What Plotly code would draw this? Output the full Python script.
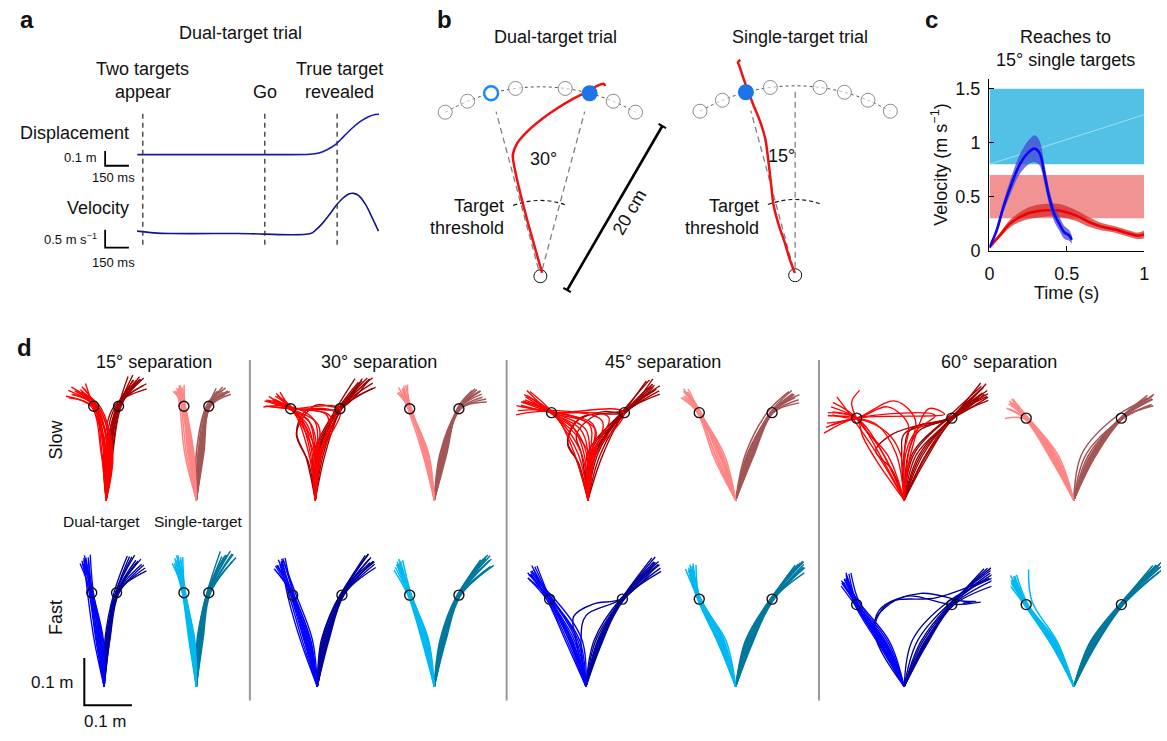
import math
import plotly.graph_objects as go

W, H = 1167, 741
FONT = "Liberation Sans, Arial, Helvetica, sans-serif"
TXT = "#111111"

# ================= DATA =================
# ---- panel a : example dual-target trial (time in ms, displacement in m, velocity in m/s)
a_t_disp = [-35, 200, 500, 800, 1050, 1110, 1162, 1214, 1267, 1319, 1370, 1423, 1464, 1489]
a_disp = [0, 0, 0, 0, 0.002, 0.011, 0.033, 0.067, 0.123, 0.178, 0.223, 0.256, 0.271, 0.273]
a_t_vel = [-36, 69, 173, 600, 1058, 1089, 1131, 1173, 1214, 1256, 1298, 1329, 1361, 1402, 1444, 1486]
a_vel = [0.067, 0.019, 0, 0, 0, 0.094, 0.278, 0.511, 0.761, 0.972, 1.111, 1.131, 1.067, 0.833, 0.464, 0.067]
a_event_t = [0, 769, 1225]          # two targets appear, go, true target revealed

# ---- panel b : example reaches (cm)
b_target_angles = [-30, -22.5, -15, -7.5, 7.5, 15, 22.5, 30]
b_target_r = 20
b_arc_angles = [-30, -22.5, -15, -7.5, 0, 7.5, 15, 22.5, 30]
b_threshold_angles = [-21, -10, 0, 10, 21]
b_threshold_r = 8
b_dual_open, b_dual_filled = -15, 15
b_single_filled = -15
b_dual_x = [0.18, -0.70, -1.56, -2.26, -2.78, -2.89, -2.43, -1.39, 0.0, 1.74, 3.47, 4.86, 5.90, 6.67, 6.80]
b_dual_y = [0.35, 3.47, 6.60, 9.38, 11.80, 12.85, 14.06, 15.28, 16.48, 17.71, 18.75, 19.44, 20.07, 20.31, 20.07]
b_single_x = [-0.03, -0.55, -1.07, -1.77, -2.29, -2.53, -2.81, -3.16, -3.68, -4.38, -4.90, -5.42, -5.87, -6.01, -5.76]
b_single_y = [0.24, 1.63, 3.36, 5.45, 7.53, 9.60, 12.03, 14.48, 16.22, 17.95, 19.35, 20.73, 22.12, 22.47, 22.74]

# ---- panel c : mean velocity profiles (s, m/s)
c_t_fast = [0.0, 0.047, 0.089, 0.143, 0.196, 0.249, 0.291, 0.323, 0.355, 0.387, 0.419, 0.451, 0.483, 0.515, 0.532]
c_v_fast = [0.03, 0.19, 0.40, 0.62, 0.80, 0.906, 0.945, 0.906, 0.71, 0.49, 0.34, 0.25, 0.17, 0.14, 0.10]
c_e_fast = [0.01, 0.03, 0.05, 0.07, 0.09, 0.11, 0.125, 0.115, 0.09, 0.075, 0.07, 0.065, 0.06, 0.05, 0.04]
c_t_slow = [0.0, 0.068, 0.132, 0.196, 0.26, 0.345, 0.451, 0.557, 0.643, 0.728, 0.813, 0.898, 0.962, 1.0]
c_v_slow = [0.03, 0.143, 0.25, 0.31, 0.35, 0.372, 0.372, 0.326, 0.265, 0.22, 0.195, 0.159, 0.137, 0.15]
c_e_slow = [0.01, 0.02, 0.035, 0.045, 0.055, 0.06, 0.06, 0.05, 0.045, 0.035, 0.03, 0.03, 0.03, 0.035]
c_fast_band = [0.8, 1.5]
c_slow_band = [0.3, 0.7]

# ---- panel d : reach trajectories, polar (deg from straight ahead, m)
# simple tuple = (angle at 0.1 m, angle at 0.2 m, end angle, end radius); list = explicit waypoints
d_separations = [15, 30, 45, 60]

d_slow15_dual_L = [(-3, -7, -14, 0.235), (0, -7, -16, 0.24), (2, -6, -18, 0.235), (4, -6, -12, 0.245),
                   (-5, -8, -20, 0.23), (6, -5, -15, 0.24), (1, -8, -10, 0.25), (-2, -7.5, -19, 0.245),
                   (8, -4, -13, 0.235), (3, -7, -17, 0.25), (-6, -9, -21, 0.235), (5, -6.5, -11, 0.24),
                   (-1, -7, -13, 0.24), (7, -5.5, -17.5, 0.235)]
d_slow15_dual_R = [(3, 7, 14, 0.26), (-1, 6, 18, 0.255), (5, 8, 12, 0.27), (6, 8, 16, 0.265),
                   (-3, 5, 20, 0.25), (4, 7.5, 10, 0.265), (8, 9, 15, 0.27), (1, 6.5, 13, 0.26),
                   (6, 7, 19, 0.26), (2, 8, 17, 0.27), (0, 7, 15.5, 0.265), (7, 8.5, 12.5, 0.26)]
d_slow15_single_L = [(-4, -7, -9, 0.24), (-6, -7, -8, 0.245), (-8, -8, -10, 0.24), (-3, -6.5, -7, 0.24),
                     (-10, -8.5, -11, 0.235), (-12, -9, -9, 0.24), (-5, -7.5, -12, 0.235),
                     (-7, -7, -6, 0.245), (-14, -10, -10, 0.235), (-9, -8, -8.5, 0.245)]
d_slow15_single_R = [(3, 7.5, 14, 0.235), (5, 8, 16, 0.24), (7, 7, 12, 0.235), (9, 8.5, 18, 0.235),
                     (4, 7.5, 10, 0.24), (2, 7, 15, 0.23), (6, 8, 13, 0.245), (0, 6, 11, 0.235),
                     (8, 8, 17, 0.24), (5.5, 7, 14.5, 0.245)]

d_slow30_dual_L = [[(2, 0.1), (-3, 0.16), (-15, 0.2), (-25, 0.23)],
                   [(4, 0.1), (2, 0.16), (-15, 0.2), (-27, 0.235)],
                   [(-4, 0.1), (-8, 0.16), (-15, 0.2), (-22, 0.23)],
                   [(6, 0.1), (8, 0.18), (-15, 0.2), (-28, 0.225)],
                   (-8, -14, -20, 0.235),
                   [(0, 0.1), (-5, 0.17), (-16, 0.2), (-24, 0.24)],
                   [(8, 0.1), (15, 0.2), (-15, 0.2), (-26, 0.22)],
                   (-2, -15, -21, 0.235),
                   [(3, 0.1), (-1, 0.17), (-15, 0.205), (-29, 0.225)],
                   [(-6, 0.1), (-10, 0.17), (-15, 0.2), (-18, 0.24)],
                   [(5, 0.1), (12, 0.19), (-14, 0.2), (-23, 0.23)],
                   (1, -14, -26, 0.235),
                   [(-1, 0.1), (-6, 0.16), (-15, 0.2), (-20, 0.24)],
                   [(7, 0.1), (10, 0.18), (-15, 0.2), (-24, 0.225)]]
d_slow30_dual_R = [(3, 15, 22, 0.27), (5, 15, 26, 0.275), (0, 14, 20, 0.265), (8, 16, 24, 0.28),
                   (-2, 13, 18, 0.27),
                   [(-10, 0.08), (-16, 0.145), (-6, 0.19), (15, 0.2), (24, 0.28)],
                   (6, 15, 28, 0.27),
                   [(-12, 0.09), (-15, 0.15), (0, 0.2), (15, 0.205), (21, 0.275)],
                   (2, 15, 25, 0.285), (10, 16, 27, 0.265), (4, 14.5, 23, 0.28), (12, 15.5, 21, 0.27)]
d_slow30_single_L = [(-8, -15, -16, 0.245), (-10, -14, -14, 0.25), (-12, -15.5, -18, 0.24),
                     (-7, -14.5, -15, 0.25), (-14, -16, -17, 0.24), (-9, -15, -13, 0.25),
                     (-11, -15, -19, 0.24), (-13, -14, -16, 0.245), (-10.5, -15, -17.5, 0.25),
                     (-8.5, -14.5, -15.5, 0.245)]
d_slow30_single_R = [(9, 15, 22, 0.245), (11, 15.5, 25, 0.24), (7, 14.5, 20, 0.25), (13, 16, 27, 0.24),
                     (10, 15, 23, 0.25), (15, 14, 19, 0.245), (12, 15.5, 28, 0.235), (8, 15, 21, 0.25),
                     (14, 15, 24, 0.245), (10.5, 14.5, 22.5, 0.25)]

d_slow45_dual_L = [[(2, 0.1), (-2, 0.15), (-22, 0.2), (-33, 0.25)],
                   [(5, 0.1), (4, 0.16), (-22, 0.2), (-36, 0.245)],
                   [(-5, 0.1), (-12, 0.16), (-22.5, 0.2), (-30, 0.255)],
                   [(8, 0.1), (10, 0.17), (-22, 0.205), (-38, 0.24)],
                   (-12, -22, -28, 0.26),
                   [(0, 0.1), (-6, 0.15), (-23, 0.2), (-34, 0.25)],
                   [(10, 0.1), (22, 0.2), (-22, 0.2), (-35, 0.245)],
                   (-8, -22, -31, 0.26),
                   [(4, 0.1), (6, 0.15), (-21, 0.2), (-40, 0.235)],
                   [(-2, 0.1), (-10, 0.15), (-23, 0.2), (-29, 0.265)],
                   [(6, 0.1), (14, 0.18), (-22, 0.2), (-37, 0.25)],
                   (1, -23, -32, 0.25),
                   [(3, 0.1), (1, 0.16), (-22.5, 0.2), (-31, 0.255)],
                   (-16, -22, -34, 0.25)]
d_slow45_dual_R = [(5, 22, 30, 0.28), (10, 23, 33, 0.275), (0, 21, 27, 0.285), (15, 23, 31, 0.27),
                   [(-14, 0.08), (-20, 0.125), (-10, 0.165), (10, 0.19), (22, 0.2), (29, 0.28)],
                   (3, 22, 34, 0.27),
                   [(-8, 0.1), (-10, 0.14), (5, 0.18), (22, 0.2), (28, 0.29)],
                   (12, 22.5, 32, 0.285),
                   [(-16, 0.09), (-19, 0.13), (-5, 0.175), (22, 0.205), (30, 0.275)],
                   (7, 22, 26, 0.28), (18, 22.5, 29, 0.28), (9, 22, 31.5, 0.275)]
d_slow45_single_L = [(-20, -22.5, -24, 0.25), (-16, -22, -25, 0.255), (-24, -23, -26, 0.245),
                     (-14, -22, -23, 0.255), (-27, -23.5, -27, 0.245), (-18, -22.5, -25, 0.26),
                     (-22, -21.5, -24, 0.25), (-19, -23, -28, 0.245), (-25, -22.5, -25.5, 0.255),
                     (-17, -22, -24.5, 0.25)]
d_slow45_single_R = [(18, 22, 28, 0.255), (20, 22.5, 30, 0.25), (16, 21.5, 27, 0.26), (22, 23, 32, 0.25),
                     (14, 22.5, 29, 0.255), (12, 20, 26, 0.255), (21, 23, 33, 0.245), (17, 22, 31, 0.26),
                     (19, 22.5, 29.5, 0.25), (15, 22, 28.5, 0.255)]

d_slow60_dual_L = [[(0, 0.1), (3, 0.16), (-10, 0.2), (-30, 0.2), (-40, 0.235)],
                   [(5, 0.1), (8, 0.17), (-5, 0.21), (-30, 0.2), (-45, 0.23)],
                   (-28, -30, -36, 0.255),
                   [(-20, 0.1), (-28, 0.16), (-30, 0.2), (-38, 0.25)],
                   [(2, 0.1), (10, 0.15), (20, 0.19), (-30, 0.2), (-50, 0.22)],
                   [(-5, 0.1), (-15, 0.15), (-30, 0.2), (-42, 0.24)],
                   (-30, -32, -33, 0.26),
                   [(8, 0.1), (15, 0.2), (25, 0.2), (-30, 0.2), (-47, 0.225)],
                   [(-25, 0.12), (-30, 0.2), (-28, 0.235), (-22, 0.25)],
                   [(-10, 0.1), (-20, 0.17), (-31, 0.2), (-44, 0.22)],
                   [(-35, 0.1), (-33, 0.16), (-30, 0.2), (-39, 0.24)],
                   (-24, -30, -41, 0.245)]
d_slow60_dual_R = [(20, 30, 36, 0.28), (25, 30, 38, 0.285), (10, 28, 34, 0.29), (28, 31, 40, 0.275),
                   [(0, 0.1), (5, 0.15), (29, 0.2), (35, 0.3)],
                   [(-22, 0.07), (-30, 0.12), (-12, 0.14), (10, 0.16), (30, 0.2), (37, 0.28)],
                   (15, 30, 33, 0.295),
                   [(5, 0.1), (12, 0.15), (30, 0.2), (39, 0.28)],
                   (22, 29.5, 35, 0.29),
                   [(-3, 0.1), (0, 0.14), (30, 0.2), (36, 0.275)],
                   (18, 30, 37, 0.29), (26, 30.5, 34.5, 0.285), (12, 29, 38.5, 0.28)]
d_slow60_single_L = [(-24, -30, -32, 0.24), (-22, -29.5, -33, 0.245), (-27, -30.5, -35, 0.235),
                     (-19, -29, -31, 0.25), (-29, -31, -36, 0.24), (-21, -29, -33, 0.25),
                     (-25, -30, -34, 0.245), (-28, -31, -40, 0.225), (-23, -30, -32.5, 0.245),
                     (-26, -30, -31.5, 0.25)]
d_slow60_single_R = [(22, 30, 36, 0.265), (25, 30.5, 38, 0.27), (18, 29.5, 35, 0.27), (26, 31, 39, 0.26),
                     (20, 30, 37, 0.275), (10, 27, 36, 0.265), (24, 30.5, 40, 0.26), (15, 30, 37, 0.28),
                     (23, 30, 37.5, 0.27), (21, 29.5, 35.5, 0.265)]

d_fast15_dual_L = [(-5, -7.5, -8, 0.27), (-3, -7, -7, 0.275), (-8, -8, -9, 0.27), (-10, -9, -10, 0.265),
                   (-2, -6.5, -6, 0.28), (-6, -8, -11, 0.265), (-12, -10, -9, 0.27), (-4, -7.5, -8.5, 0.28),
                   (-7, -8, -7, 0.27), (-1, -7, -9, 0.275), (-9, -8.5, -8, 0.275), (-4.5, -7, -10, 0.27)]
d_fast15_dual_R = [(4, 7.5, 14, 0.275), (5, 8, 17, 0.27), (3, 7, 12, 0.28), (6, 8.5, 19, 0.265),
                   (2, 7, 11, 0.28), (5.5, 8, 15, 0.275), (4.5, 7.5, 20, 0.26), (3.5, 7, 13, 0.285),
                   (7, 9, 18, 0.27), (1, 6, 10, 0.28), (6.5, 8, 16, 0.28), (2.5, 7.5, 14.5, 0.27)]
d_fast15_single_L = [(-4, -7.5, -8, 0.27), (-6, -7, -6, 0.275), (-8, -8, -9, 0.27), (-2, -7, -7, 0.275),
                     (-9, -8.5, -10, 0.265), (-5, -7.5, -8.5, 0.28), (-7, -7.5, -11, 0.265),
                     (-3, -6.5, -7, 0.27), (-6.5, -8, -9.5, 0.275), (-4.5, -7, -8, 0.28)]
d_fast15_single_R = [(4, 7.5, 13, 0.285), (6, 8, 15, 0.29), (3, 7, 11, 0.28), (8, 8.5, 17, 0.285),
                     (5, 7.5, 14, 0.295), (2, 6.5, 12, 0.28), (7, 8, 16, 0.275), (1, 6.5, 10, 0.29),
                     (5.5, 8, 15.5, 0.29), (3.5, 7, 12.5, 0.285)]

d_fast30_dual_L = [(-12, -15, -16, 0.275), (-10, -14.5, -14, 0.28), (-14, -15.5, -18, 0.27),
                   (-18, -17, -17, 0.27), (-8, -14, -15, 0.28), (-13, -15, -20, 0.265),
                   (-20, -18, -16, 0.275), (-11, -15, -17, 0.28), (-15, -16, -19, 0.27), (-6, -13, -15, 0.275),
                   (-16, -16, -15.5, 0.28), (-9, -14.5, -18.5, 0.27)]
d_fast30_dual_R = [(10, 15, 22, 0.29), (12, 15.5, 24, 0.29), (8, 14.5, 20, 0.295), (13, 16, 25, 0.285),
                   (11, 15, 21, 0.3), (6, 14, 23, 0.285), (12.5, 15.5, 26, 0.28), (9, 15, 22.5, 0.295),
                   (14, 16, 24, 0.29), (5, 14, 21, 0.3), (7, 14.5, 24.5, 0.29)]
d_fast30_single_L = [(-10, -15, -16, 0.27), (-8, -14.5, -15, 0.275), (-13, -15.5, -18, 0.265),
                     (-7, -14, -14, 0.275), (-15, -16, -19, 0.26), (-11, -15, -17, 0.27),
                     (-12, -15, -15.5, 0.28), (-9, -14, -16, 0.27), (-14, -15.5, -17, 0.27),
                     (-10.5, -15, -16.5, 0.275)]
d_fast30_single_R = [(10, 15, 22, 0.29), (12, 15.5, 24, 0.295), (8, 14.5, 20, 0.285), (14, 16, 26, 0.285),
                     (11, 15, 23, 0.3), (7, 14, 21, 0.29), (13, 15.5, 25, 0.28), (9, 15, 22, 0.3),
                     (12.5, 15, 23.5, 0.29), (10.5, 15, 21.5, 0.295)]

d_fast45_dual_L = [(-18, -22.5, -24, 0.27), (-16, -22, -22, 0.275), (-20, -23, -26, 0.265),
                   (-10, -21, -25, 0.27), (-22, -24, -28, 0.26), (-14, -22, -23, 0.275),
                   (-5, -20, -27, 0.265), (-19, -23, -24, 0.28), (-24, -24, -26, 0.265), (-12, -22, -28, 0.26),
                   (-8, -21.5, -25.5, 0.27), (-17, -23, -27, 0.27)]
d_fast45_dual_R = [(16, 22.5, 29, 0.3), (18, 23, 31, 0.3), (14, 22, 27, 0.305), (19, 23.5, 32, 0.295),
                   [(-12, 0.1), (-10, 0.15), (5, 0.175), (22, 0.2), (30, 0.29)],
                   (12, 22, 28, 0.31), (17, 22.5, 30, 0.305),
                   [(-6, 0.1), (0, 0.15), (22, 0.2), (29, 0.3)],
                   (20, 23, 33, 0.29), (15, 22, 28.5, 0.3), (10, 21.5, 30.5, 0.3)]
d_fast45_single_L = [(-17, -22.5, -20, 0.27), (-15, -22, -19, 0.275), (-20, -23, -21, 0.265),
                     (-12, -22, -18, 0.27), (-22, -23.5, -22, 0.265), (-16, -22.5, -20.5, 0.275),
                     (-14, -21.5, -21, 0.265), (-19, -23, -23, 0.27), (-18, -22.5, -19.5, 0.27),
                     (-21, -23, -21.5, 0.27)]
d_fast45_single_R = [(16, 22.5, 27, 0.29), (18, 23, 29, 0.295), (14, 22, 26, 0.285), (20, 23.5, 30, 0.29),
                     (17, 22.5, 28, 0.3), (12, 21.5, 27, 0.29), (19, 23, 31, 0.28), (15, 22, 28.5, 0.3),
                     (21, 23, 29.5, 0.29), (13, 22, 27.5, 0.295)]

d_fast60_dual_L = [(-27, -30, -28, 0.26), (-25, -29.5, -26, 0.265), (-29, -30.5, -30, 0.255),
                   (-24, -29, -27, 0.27), (-30, -31, -32, 0.25), (-26, -30, -29, 0.26),
                   (-20, -28, -25, 0.265), (-28, -30, -31, 0.255), (-31, -31, -28, 0.26), (-23, -29, -27.5, 0.265),
                   (-22, -29.5, -30.5, 0.26), (-18, -28, -29, 0.26)]
d_fast60_dual_R = [(25, 30, 37, 0.3), (27, 30.5, 40, 0.295), (22, 29.5, 35, 0.305), (28, 31, 42, 0.29),
                   (20, 29, 36, 0.31), (26, 30, 38, 0.3), (10, 27, 39, 0.295), (24, 30, 34, 0.3),
                   [(-28, 0.1), (-25, 0.15), (0, 0.19), (30, 0.2), (42, 0.24)],
                   [(-30, 0.12), (-18, 0.17), (10, 0.2), (35, 0.22), (40, 0.235), (35, 0.215)],
                   [(-22, 0.09), (-26, 0.14), (-10, 0.18), (20, 0.2), (38, 0.29)],
                   (16, 28.5, 36.5, 0.305)]
d_fast60_single_L = [(-24, -30, -29, 0.26), (-22, -29.5, -28, 0.265), (-26, -30.5, -31, 0.255),
                     (-21, -29, -27, 0.265), (-28, -31, -32, 0.25), (-25, -30, -30, 0.26),
                     (-20, -26, -21, 0.265), (-27, -30, -29.5, 0.27), (-23, -30, -30.5, 0.26),
                     (-25.5, -30.5, -28.5, 0.265)]
d_fast60_single_R = [(24, 30, 34, 0.31), (26, 30.5, 36, 0.315), (22, 29.5, 33, 0.305), (28, 31, 37, 0.31),
                     (25, 30, 35, 0.32), (20, 29, 34, 0.31), (27, 30.5, 36.5, 0.3), (23, 30, 35, 0.315),
                     (26.5, 30, 34.5, 0.31), (21, 29.5, 35.5, 0.31)]

d_target_r = 0.2

# ================= HELPERS =================
fig = go.Figure()
annotations, shapes = [], []
layout_axes = {}


def px2x(px):
    return px / W


def py2y(py):
    return 1 - py / H


def add_axes(i, x0, x1, y0, y1, xr, yr):
    layout_axes[f"xaxis{i}"] = dict(domain=[px2x(x0), px2x(x1)], range=xr, visible=False,
                                    anchor=f"y{i}", fixedrange=True)
    layout_axes[f"yaxis{i}"] = dict(domain=[py2y(y1), py2y(y0)], range=yr, visible=False,
                                    anchor=f"x{i}", fixedrange=True)


def txt(s, px, py, size=18, xanchor="center", angle=0, color=TXT):
    annotations.append(dict(text=s, x=px2x(px), y=py2y(py), xref="paper", yref="paper",
                            showarrow=False, xanchor=xanchor, yanchor="middle", textangle=angle,
                            font=dict(family=FONT, size=size, color=color)))


def line(i, xs, ys, color="black", width=1.5, dash=None, shape="linear"):
    fig.add_trace(go.Scatter(x=xs, y=ys, mode="lines", xaxis=f"x{i}", yaxis=f"y{i}",
                             line=dict(color=color, width=width, dash=dash, shape=shape),
                             hoverinfo="skip", showlegend=False))


def pol(a, r):
    return r * math.sin(math.radians(a)), r * math.cos(math.radians(a))


def expand(item):
    if isinstance(item[0], (int, float)):
        a1, a2, a3, r3 = item
        return [(a1, 0.1), (a2, 0.2), (a3, r3)]
    return item


def bundle_xy(bundle):
    X, Y = [], []
    for it in bundle:
        X.append(0.0)
        Y.append(0.0)
        for a, r in expand(it):
            x, y = pol(a, r)
            X.append(x)
            Y.append(y)
        X.append(None)
        Y.append(None)
    return X, Y


# ================= PANEL a =================
A_SC_T = 0.16          # px per ms
A_T0_PX = 139
ax_x = [(90 - A_T0_PX) / A_SC_T, (380 - A_T0_PX) / A_SC_T]
add_axes(1, 90, 380, 105, 175, ax_x, [(156.7 - 175) / 150, (156.7 - 105) / 150])
add_axes(2, 90, 380, 185, 260, ax_x, [(236.7 - 260) / 36, (236.7 - 185) / 36])
line(1, a_t_disp, a_disp, color="#1818b0", width=1.6, shape="spline")
line(2, a_t_vel, a_vel, color="#14148c", width=1.6, shape="spline")
for t in a_event_t:
    shapes.append(dict(type="line", xref="x", yref="paper", x0=t, x1=t, y0=py2y(248), y1=py2y(115),
                       line=dict(color="#333333", width=1.3, dash="5px,4px")))
tb = (101 - A_T0_PX) / A_SC_T
d0 = (156.7 - 153) / 150
line(1, [tb, tb, tb + 150], [d0, d0 - 0.1, d0 - 0.1], width=1.8)
v0 = (236.7 - 233) / 36
line(2, [tb, tb, tb + 150], [v0, v0 - 0.5, v0 - 0.5], width=1.8)

txt("<b>a</b>", 22, 20, size=24)
txt("Dual-target trial", 238, 33)
txt("Two targets", 139, 70)
txt("appear", 139, 93)
txt("Go", 262, 93)
txt("True target", 337, 70)
txt("revealed", 337, 93)
txt("Displacement", 127, 135, xanchor="right")
txt("0.1 m", 95, 160, size=13, xanchor="right")
txt("150 ms", 109, 180, size=13)
txt("Velocity", 127, 211, xanchor="right")
txt("0.5 m s<sup>−1</sup>", 95, 242, size=13, xanchor="right")
txt("150 ms", 109, 266, size=13)

# ================= PANEL b =================
B_SC = 9.6   # px per cm


def b_axes(i, sx, sy, x0, x1, y0, y1):
    add_axes(i, x0, x1, y0, y1, [(x0 - sx) / B_SC, (x1 - sx) / B_SC], [(sy - y1) / B_SC, (sy - y0) / B_SC])


b_axes(3, 540, 280, 430, 690, 50, 305)
b_axes(4, 797, 279, 690, 905, 50, 305)

for i, filled, opened, dashed in [(3, b_dual_filled, b_dual_open, [b_dual_open, b_dual_filled]),
                                  (4, b_single_filled, None, [b_single_filled, 0])]:
    for a in dashed:
        rr = 19.6 if a == 0 else 18
        x0, y0 = pol(a, 0.8)
        x1, y1 = pol(a, rr)
        line(i, [x0, x1], [y0, y1], color="#808080", width=1.3, dash="6px,4px")
    ax_, ay_ = zip(*[pol(a, b_target_r) for a in b_arc_angles])
    line(i, list(ax_), list(ay_), color="#555555", width=1, dash="dot", shape="spline")
    tx_, ty_ = zip(*[pol(a, b_threshold_r) for a in b_threshold_angles])
    line(i, list(tx_), list(ty_), color="#111111", width=1.2, dash="4px,3px", shape="spline")
    others = [a for a in b_target_angles if a != filled and a != opened]
    gx, gy = zip(*[pol(a, b_target_r) for a in others])
    fig.add_trace(go.Scatter(x=list(gx), y=list(gy), mode="markers", xaxis=f"x{i}", yaxis=f"y{i}",
                             marker=dict(symbol="circle", size=14, color="rgba(255,255,255,0.6)",
                                         line=dict(color="#8a8a8a", width=1)),
                             hoverinfo="skip", showlegend=False))
    fig.add_trace(go.Scatter(x=[0], y=[0], mode="markers", xaxis=f"x{i}", yaxis=f"y{i}",
                             marker=dict(symbol="circle-open", size=13, color="#111", line=dict(width=1)),
                             hoverinfo="skip", showlegend=False))

ox, oy = pol(b_dual_open, b_target_r)
fig.add_trace(go.Scatter(x=[ox], y=[oy], mode="markers", xaxis="x3", yaxis="y3",
                         marker=dict(symbol="circle", size=14, color="white",
                                     line=dict(color="#1a86ff", width=2.5)),
                         hoverinfo="skip", showlegend=False))
line(3, b_dual_x, b_dual_y, color="#ee1111", width=2.5, shape="spline")
line(4, b_single_x, b_single_y, color="#ee1111", width=2.5, shape="spline")
for i, a in [(3, b_dual_filled), (4, b_single_filled)]:
    fx, fy = pol(a, b_target_r)
    fig.add_trace(go.Scatter(x=[fx], y=[fy], mode="markers", xaxis=f"x{i}", yaxis=f"y{i}",
                             marker=dict(symbol="circle", size=16, color="#1c74e8",
                                         line=dict(color="#1c74e8", width=0)),
                             hoverinfo="skip", showlegend=False))

bx0, by0 = 2.81, -1.46
ux, uy = math.sin(math.radians(30)), math.cos(math.radians(30))
bx1, by1 = bx0 + 20 * ux, by0 + 20 * uy
line(3, [bx0, bx1], [by0, by1], width=2.6)
for cx, cy in [(bx0, by0), (bx1, by1)]:
    line(3, [cx - 0.45 * uy, cx + 0.45 * uy], [cy + 0.45 * ux, cy - 0.45 * ux], width=2)

txt("<b>b</b>", 443, 20, size=24)
txt("Dual-target trial", 555, 37)
txt("Single-target trial", 802, 37)
txt("30°", 543, 161)
txt("Target", 505, 209, xanchor="right")
txt("threshold", 505, 231, xanchor="right")
txt("15°", 783, 158)
txt("Target", 763, 209, xanchor="right")
txt("threshold", 763, 231, xanchor="right")
txt("20 cm", 630, 215, angle=-60)

# ================= PANEL c =================
C_TOP = (254 - 80) / 109.33
layout_axes["xaxis5"] = dict(domain=[px2x(993), px2x(1149)], range=[0, 1], anchor="y5",
                             showline=True, linecolor="black", linewidth=1.5, ticks="inside", ticklen=5,
                             tickcolor="black", tickvals=[0, 0.5, 1], ticktext=["0", "0.5", "1"],
                             tickfont=dict(family=FONT, size=18, color=TXT), showgrid=False,
                             zeroline=False, fixedrange=True, ticklabelstandoff=6)
layout_axes["yaxis5"] = dict(domain=[py2y(254), py2y(80)], range=[0, C_TOP], anchor="x5",
                             showline=True, linecolor="black", linewidth=1.5, ticks="inside", ticklen=5,
                             tickcolor="black", tickvals=[0, 0.5, 1, 1.5], ticktext=["0", "0.5", "1", "1.5"],
                             tickfont=dict(family=FONT, size=18, color=TXT), showgrid=False,
                             zeroline=False, fixedrange=True, ticklabelstandoff=4)
shapes.append(dict(type="rect", xref="x5", yref="y5", x0=0, x1=1, y0=c_fast_band[0], y1=c_fast_band[1],
                   fillcolor="#53c1e6", line=dict(width=0), layer="below"))
shapes.append(dict(type="rect", xref="x5", yref="y5", x0=0, x1=1, y0=c_slow_band[0], y1=c_slow_band[1],
                   fillcolor="#f19393", line=dict(width=0), layer="below"))
shapes.append(dict(type="line", xref="x5", yref="y5", x0=0, x1=1, y0=0.8, y1=1.26,
                   line=dict(color="rgba(255,255,255,0.45)", width=1), layer="below"))

for tt, vv, ee, band, col in [(c_t_slow, c_v_slow, c_e_slow, "rgba(212,40,40,0.72)", "#f00000"),
                              (c_t_fast, c_v_fast, c_e_fast, "rgba(70,70,215,0.75)", "#0a0af0")]:
    up = [v + e for v, e in zip(vv, ee)]
    lo = [v - e for v, e in zip(vv, ee)]
    fig.add_trace(go.Scatter(x=tt, y=lo, mode="lines", xaxis="x5", yaxis="y5",
                             line=dict(width=0, shape="spline"), hoverinfo="skip", showlegend=False))
    fig.add_trace(go.Scatter(x=tt, y=up, mode="lines", xaxis="x5", yaxis="y5", fill="tonexty",
                             fillcolor=band, line=dict(width=0, shape="spline"),
                             hoverinfo="skip", showlegend=False))
    line(5, tt, vv, color=col, width=2.6, shape="spline")

txt("<b>c</b>", 935, 20, size=24)
txt("Reaches to", 1070, 37)
txt("15° single targets", 1070, 61)
txt("Velocity (m s<sup>−1</sup>)", 943, 167, angle=-90)
txt("Time (s)", 1071, 297)

# ================= PANEL d =================
D_SC = 480.0  # px per m
slow_pos = {15: (102, 193), 30: (313, 433), 45: (588, 737), 60: (907, 1078)}
fast_pos = {15: (100, 193), 30: (315, 433), 45: (586, 737), 60: (907, 1078)}
row_y = {"slow": 507, "fast": 696}
colors = {("slow", "dual"): ("#ff0000", "#a00000"),
          ("slow", "single"): ("#ff8585", "#a35656"),
          ("fast", "dual"): ("#0000ff", "#00009c"),
          ("fast", "single"): ("#00b8f2", "#00789c")}
bundles = {
    ("slow", 15, "dual"): (d_slow15_dual_L, d_slow15_dual_R),
    ("slow", 15, "single"): (d_slow15_single_L, d_slow15_single_R),
    ("slow", 30, "dual"): (d_slow30_dual_L, d_slow30_dual_R),
    ("slow", 30, "single"): (d_slow30_single_L, d_slow30_single_R),
    ("slow", 45, "dual"): (d_slow45_dual_L, d_slow45_dual_R),
    ("slow", 45, "single"): (d_slow45_single_L, d_slow45_single_R),
    ("slow", 60, "dual"): (d_slow60_dual_L, d_slow60_dual_R),
    ("slow", 60, "single"): (d_slow60_single_L, d_slow60_single_R),
    ("fast", 15, "dual"): (d_fast15_dual_L, d_fast15_dual_R),
    ("fast", 15, "single"): (d_fast15_single_L, d_fast15_single_R),
    ("fast", 30, "dual"): (d_fast30_dual_L, d_fast30_dual_R),
    ("fast", 30, "single"): (d_fast30_single_L, d_fast30_single_R),
    ("fast", 45, "dual"): (d_fast45_dual_L, d_fast45_dual_R),
    ("fast", 45, "single"): (d_fast45_single_L, d_fast45_single_R),
    ("fast", 60, "dual"): (d_fast60_dual_L, d_fast60_dual_R),
    ("fast", 60, "single"): (d_fast60_single_L, d_fast60_single_R),
}

idx = 6
scale_axis = None
for row in ["slow", "fast"]:
    pos = slow_pos if row == "slow" else fast_pos
    sy = row_y[row]
    for sep in d_separations:
        for k, kind in enumerate(["dual", "single"]):
            sx = pos[sep][k]
            x0, x1 = sx - 90, min(sx + 88, W - 1)
            y0, y1 = sy - 165, sy + 24
            add_axes(idx, x0, x1, y0, y1, [(x0 - sx) / D_SC, (x1 - sx) / D_SC],
                     [(sy - y1) / D_SC, (sy - y0) / D_SC])
            L, R = bundles[(row, sep, kind)]
            cL, cR = colors[(row, kind)]
            wd = 1.35 if kind == "dual" else 1.5
            xs, ys = bundle_xy(R)
            line(idx, xs, ys, color=cR, width=wd, shape="spline")
            xs, ys = bundle_xy(L)
            line(idx, xs, ys, color=cL, width=wd, shape="spline")
            tx, ty = zip(*[pol(-sep / 2, d_target_r), pol(sep / 2, d_target_r)])
            fig.add_trace(go.Scatter(x=list(tx), y=list(ty), mode="markers", xaxis=f"x{idx}",
                                     yaxis=f"y{idx}",
                                     marker=dict(symbol="circle-open", size=10, color="#111",
                                                 line=dict(width=1.4)),
                                     hoverinfo="skip", showlegend=False))
            if row == "fast" and sep == 15 and kind == "dual":
                scale_axis = (idx, sx, sy)
            idx += 1

si, ssx, ssy = scale_axis
cx, cy = (80 - ssx) / D_SC, (ssy - 715) / D_SC
line(si, [cx, cx, cx + 0.1], [cy + 0.1, cy, cy], width=2)

for xsep in [247, 506, 821]:
    shapes.append(dict(type="line", xref="paper", yref="paper", x0=px2x(xsep), x1=px2x(xsep),
                       y0=py2y(710), y1=py2y(365), line=dict(color="#9a9a9a", width=2)))

txt("<b>d</b>", 20, 352, size=24)
txt("15° separation", 150, 367)
txt("30° separation", 377, 367)
txt("45° separation", 664, 367)
txt("60° separation", 1003, 367)
txt("Slow", 51, 446, angle=-90)
txt("Fast", 51, 626, angle=-90)
txt("Dual-target", 97, 529, size=15.5)
txt("Single-target", 195, 529, size=15.5)
txt("0.1 m", 72, 692, size=17, xanchor="right")
txt("0.1 m", 101, 731, size=17)

fig.update_layout(width=W, height=H, autosize=False, margin=dict(l=0, r=0, t=0, b=0),
                  paper_bgcolor="white", plot_bgcolor="rgba(0,0,0,0)", showlegend=False,
                  annotations=annotations, shapes=shapes, font=dict(family=FONT, color=TXT),
                  hovermode=False, **layout_axes)
fig.write_html("out.html", config={"displayModeBar": False, "staticPlot": True},
               post_script="document.body.style.margin='0';document.body.style.padding='0';"
                           "document.body.style.overflow='hidden';")
